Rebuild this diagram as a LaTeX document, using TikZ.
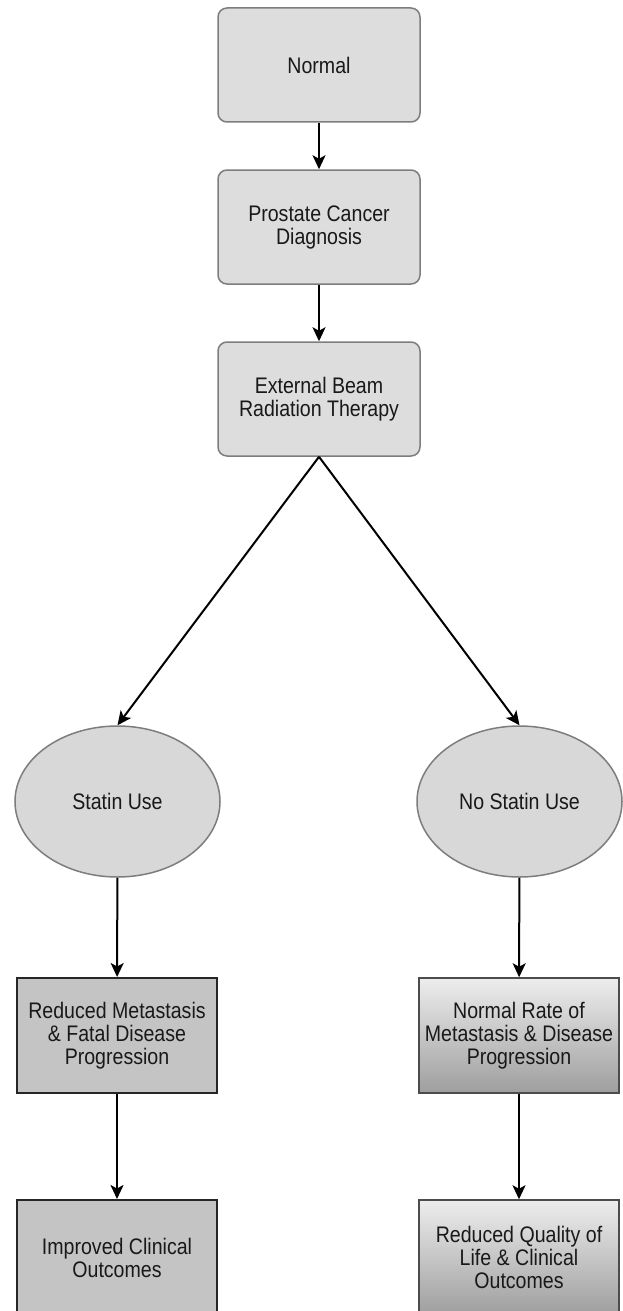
\documentclass[tikz,border=0pt]{standalone}
\usepackage{fontspec}
\setmainfont{Liberation Sans}[FakeStretch=0.87]
\usetikzlibrary{arrows.meta,shapes.geometric}
\definecolor{boxgray}{RGB}{221,221,221}
\definecolor{ovalgray}{RGB}{216,216,216}
\definecolor{darkbox}{RGB}{196,196,196}
\definecolor{edgegray}{RGB}{125,125,125}
\tikzset{
  roundbox/.style={draw=edgegray, line width=1.5pt, fill=boxgray, rounded corners=9pt,
    minimum width=202pt, minimum height=114pt, align=center},
  oval/.style={ellipse, draw=edgegray, line width=1.5pt, fill=ovalgray,
    minimum width=205pt, minimum height=151pt, align=center},
  statbox/.style={draw=black!85, line width=2pt, fill=darkbox,
    minimum width=200pt, minimum height=115pt, align=center},
  nostatbox/.style={draw=black!70, line width=1.5pt, top color=black!7, bottom color=black!38,
    minimum width=200pt, minimum height=115pt, align=center}
}
\begin{document}
\begin{tikzpicture}[x=1pt, y=-1pt, every node/.append style={font=\fontsize{22.5}{23}\selectfont, text=black!90, inner sep=0pt}]
  \clip (0,0) rectangle (623,1311);
  \begin{scope}[every node/.append style={roundbox}]
    \node (normal)    at (319, 65)  {Normal};
    \node (diagnosis) at (319,227)  {Prostate Cancer\\Diagnosis};
    \node (ebrt)      at (319,399)  {External Beam\\Radiation Therapy};
  \end{scope}
  \node[oval] (statin)   at (117.5,801.5) {Statin Use};
  \node[oval] (nostatin) at (519.5,801.5) {No Statin Use};
  \node[statbox]   (reducedmet) at (117,1035.5) {Reduced Metastasis\\\& Fatal Disease\\Progression};
  \node[nostatbox] (normalrate) at (519,1035.5) {Normal Rate of\\Metastasis \& Disease\\Progression};
  \node[statbox]   (improved)   at (117,1257.5) {Improved Clinical\\Outcomes};
  \node[nostatbox] (reducedqol) at (519,1257.5) {Reduced Quality of\\Life \& Clinical\\Outcomes};
  \begin{scope}[every edge/.style={draw=black, line width=2pt, ->, >={Stealth[length=14pt,width=13pt,inset=3.5pt]}}]
    \path (normal) edge (diagnosis);
    \path (diagnosis) edge (ebrt);
    \path (ebrt.south) edge (statin.north);
    \path (ebrt.south) edge (nostatin.north);
    \path (statin) edge (reducedmet);
    \path (nostatin) edge (normalrate);
    \path (reducedmet) edge (improved);
    \path (normalrate) edge (reducedqol);
  \end{scope}
\end{tikzpicture}
\end{document}
